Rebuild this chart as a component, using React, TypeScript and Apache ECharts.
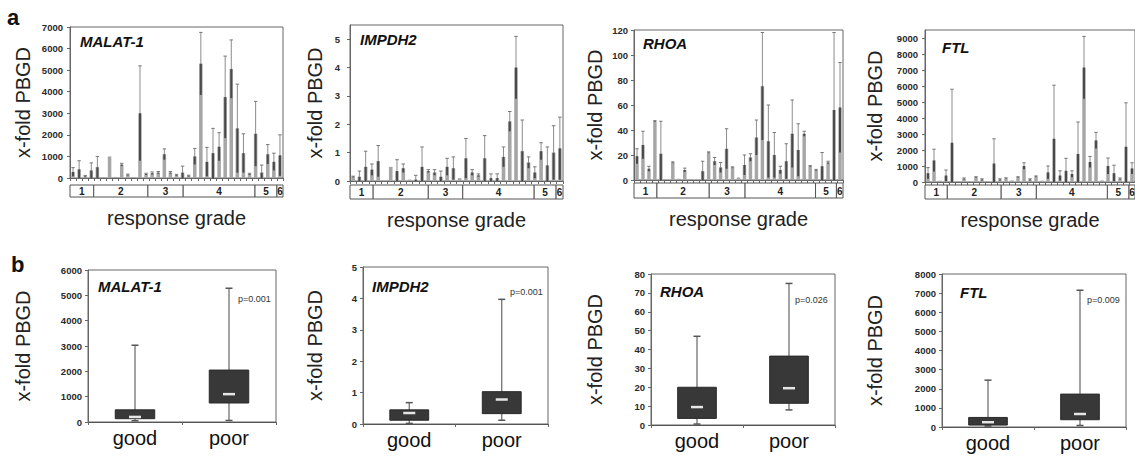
import React, { useEffect, useRef } from "react";
import * as echarts from "echarts";

const FONT = "'Liberation Sans', Arial, Helvetica, sans-serif";

const geneNames = ["MALAT-1", "IMPDH2", "RHOA", "FTL"];
const gradeLabels = ["1", "2", "3", "4", "5", "6"];
const outcomeCategories = ["good", "poor"];
const pValues = ["p=0.001", "p=0.001", "p=0.026", "p=0.009"];
const yAxisTitle = "x-fold PBGD";
const xAxisTitle = "response grade";

// ---- panel a: per-patient mean and SD ----
const malatMean = [280, 400, 80, 350, 500, 30, 1000, 50, 620, 150, 40, 3000, 180, 220, 250, 1100, 250, 130, 250, 100, 1000, 5300, 750, 1150, 1450, 3750, 5050, 2300, 1150, 180, 2050, 250, 1100, 750, 1050];
const malatSd = [200, 400, 40, 350, 500, 0, 0, 0, 60, 30, 0, 2200, 40, 60, 50, 250, 50, 40, 300, 30, 370, 1450, 670, 1150, 650, 1900, 1350, 2050, 900, 40, 1500, 350, 450, 400, 950];
const malatGradeEdges = [0, 3.9, 12.8, 18.6, 30.4, 34.0, 35];

const impdhMean = [0.15, 0.15, 0.5, 0.4, 0.7, 0, 0.5, 0.35, 0.45, 0.05, 0.05, 0.5, 0.35, 0.3, 0.15, 0.5, 0.45, 0.1, 0.8, 0.3, 0.2, 0.8, 0.1, 0.1, 0.85, 2.1, 4.0, 1.05, 0.65, 0.3, 1.05, 0.55, 1.0, 1.15];
const impdhSd = [0.02, 0.2, 0.55, 0.2, 0.55, 0, 0, 0.4, 0.15, 0, 0.15, 0.7, 0.05, 0.1, 0.2, 0.3, 0.4, 0, 0.7, 0.1, 0.05, 0.8, 0.15, 0.15, 0.35, 0.35, 1.1, 1.1, 0.2, 0.2, 0.3, 0.65, 0.95, 1.1];
const impdhGradeEdges = [0, 3.7, 12.5, 18.0, 29.4, 32.9, 34];

const rhoaMean = [19, 28, 9, 47, 21, 0.5, 14, 1, 8, 0.5, 0.3, 7, 22, 15, 10, 25, 10, 2, 12, 18, 34, 75, 31, 20, 8, 15, 37, 24, 37, 11, 8, 11, 14, 56, 58];
const rhoaSd = [6, 11, 2, 0.5, 26, 0, 0.5, 0, 1.5, 0, 0, 8, 0.5, 3, 4, 16, 0.5, 0, 8, 3, 14, 43, 29, 18, 3, 14, 27, 21, 2, 0.5, 0.5, 11, 1, 62, 36];
const rhoaGradeEdges = [0, 3.84, 12.6, 18.6, 30.4, 33.9, 35];

const ftlMean = [550, 1350, 80, 400, 2450, 30, 200, 30, 300, 150, 50, 1150, 150, 220, 100, 300, 1000, 150, 350, 80, 600, 2700, 400, 700, 500, 1750, 7150, 1250, 2600, 100, 1000, 550, 200, 2200, 850];
const ftlSd = [350, 700, 0, 350, 3350, 0, 50, 0, 30, 50, 0, 1550, 50, 40, 0, 30, 200, 50, 30, 0, 400, 3350, 300, 780, 200, 2000, 1950, 350, 500, 0, 500, 500, 50, 2750, 350];
const ftlGradeEdges = [0, 3.72, 12.7, 18.56, 30.4, 34.0, 35];

// ---- panel b: [min, Q1, median, Q3, max] for good / poor ----
const malatBox = [[50, 130, 200, 480, 3030], [60, 750, 1100, 2050, 5280]];
const impdhBox = [[0.02, 0.12, 0.35, 0.45, 0.68], [0.12, 0.33, 0.78, 1.03, 3.97]];
const rhoaBox = [[0.5, 3.5, 9.5, 20, 47], [8, 11.5, 19.5, 36.5, 75]];
const ftlBox = [[50, 100, 250, 500, 2450], [80, 380, 680, 1720, 7150]];

const topMeans = [malatMean, impdhMean, rhoaMean, ftlMean];
const topSds = [malatSd, impdhSd, rhoaSd, ftlSd];
const topEdges = [malatGradeEdges, impdhGradeEdges, rhoaGradeEdges, ftlGradeEdges];
const topMax = [7000, 5.5, 120, 9500];
const topInterval = [1000, 1, 20, 1000];
const boxData = [malatBox, impdhBox, rhoaBox, ftlBox];
const boxMax = [6000, 5, 80, 8000];
const boxInterval = [1000, 1, 10, 1000];

// layout (pixels)
const topLayout = [
  { left: 70, top: 27, width: 213, height: 151, gTop: 185, gH: 12, nameGap: 37, margin: 7, title: [80, 41] },
  { left: 350, top: 25, width: 213, height: 156, gTop: 185, gH: 14, nameGap: 25, margin: 10, title: [360, 39] },
  { left: 634, top: 30, width: 209, height: 150, gTop: 183, gH: 15, nameGap: 29, margin: 6, title: [643, 43.5] },
  { left: 925, top: 30, width: 211, height: 152, gTop: 185, gH: 14, nameGap: 40, margin: 7, title: [942, 47.5] },
];
const botLayout = [
  { left: 88, top: 270, width: 188, height: 152, nameGap: 55, title: [98, 286], p: [238, 299] },
  { left: 363, top: 267, width: 185, height: 157, nameGap: 38, title: [372, 286], p: [510, 292] },
  { left: 651, top: 274, width: 184, height: 151, nameGap: 46, title: [660, 291], p: [795, 300] },
  { left: 942, top: 274, width: 184, height: 153, nameGap: 57, title: [960, 292], p: [1087, 300] },
];

function buildOption() {
  const grid: any[] = [];
  const xAxis: any[] = [];
  const yAxis: any[] = [];
  const series: any[] = [];
  const graphic: any[] = [];

  const axisLineStyle = { color: "#666", width: 1 };
  const tickLabel = (margin: number, showMax: boolean) => ({
    fontSize: 9.5,
    fontWeight: "bold",
    color: "#2a2a2a",
    fontFamily: FONT,
    margin,
    showMaxLabel: showMax,
    formatter: (v: number) => String(v),
  });
  const yName = (gap: number) => ({
    name: yAxisTitle,
    nameLocation: "middle",
    nameGap: gap,
    nameTextStyle: { fontSize: 20, color: "#222", fontFamily: FONT },
  });

  const errRender = (params: any, api: any) => {
    const i = api.value(0);
    const m = api.value(1);
    const s = api.value(2);
    if (!s) return null;
    const pTop = api.coord([i, m + s]);
    const pMid = api.coord([i, m]);
    const pLow = api.coord([i, Math.max(0, m - s)]);
    const bw = api.size([1, 0])[0];
    const cap = bw * 0.28;
    return {
      type: "group",
      children: [
        { type: "line", shape: { x1: pTop[0], y1: pTop[1], x2: pMid[0], y2: pMid[1] }, style: { stroke: "#8c8c8c", lineWidth: 1 } },
        { type: "line", shape: { x1: pTop[0] - cap, y1: pTop[1], x2: pTop[0] + cap, y2: pTop[1] }, style: { stroke: "#777", lineWidth: 1 } },
        { type: "line", shape: { x1: pMid[0], y1: pMid[1], x2: pLow[0], y2: pLow[1] }, style: { stroke: "#4a4a4a", lineWidth: 2 } },
      ],
    };
  };

  const groupRender = (params: any, api: any) => {
    const s = api.value(0);
    const e = api.value(1);
    const p0 = api.coord([s, 1]);
    const p1 = api.coord([e, 0]);
    return {
      type: "group",
      children: [
        { type: "rect", shape: { x: p0[0], y: p0[1], width: p1[0] - p0[0], height: p1[1] - p0[1] }, style: { fill: "#fff", stroke: "#555", lineWidth: 1 } },
        {
          type: "text",
          style: {
            text: gradeLabels[params.dataIndex],
            x: (p0[0] + p1[0]) / 2,
            y: (p0[1] + p1[1]) / 2 + 0.5,
            align: "center",
            verticalAlign: "middle",
            fontSize: 10,
            fontWeight: "bold",
            fontFamily: FONT,
            fill: "#222",
          },
        },
      ],
    };
  };

  const boxRender = (params: any, api: any) => {
    const x = api.value(0);
    const mn = api.value(1), q1 = api.value(2), md = api.value(3), q3 = api.value(4), mx = api.value(5);
    const cw = api.size([1, 0])[0];
    const half = cw * 0.21;
    const cap = 3.5;
    const pMin = api.coord([x, mn]);
    const pMax = api.coord([x, mx]);
    const pQ1 = api.coord([x, q1]);
    const pQ3 = api.coord([x, q3]);
    const pMd = api.coord([x, md]);
    const cx = pMin[0];
    return {
      type: "group",
      children: [
        { type: "line", shape: { x1: cx, y1: pMax[1], x2: cx, y2: pMin[1] }, style: { stroke: "#666", lineWidth: 1.2 } },
        { type: "line", shape: { x1: cx - cap, y1: pMax[1], x2: cx + cap, y2: pMax[1] }, style: { stroke: "#555", lineWidth: 1.5 } },
        { type: "line", shape: { x1: cx - cap, y1: pMin[1], x2: cx + cap, y2: pMin[1] }, style: { stroke: "#555", lineWidth: 1.5 } },
        { type: "rect", shape: { x: cx - half, y: pQ3[1], width: half * 2, height: pQ1[1] - pQ3[1] }, style: { fill: "#383838", stroke: "#2a2a2a", lineWidth: 1 } },
        { type: "line", shape: { x1: cx - 6, y1: pMd[1], x2: cx + 6, y2: pMd[1] }, style: { stroke: "#e6e6e6", lineWidth: 2.5 } },
      ],
    };
  };

  // ---- top row ----
  for (let k = 0; k < 4; k++) {
    const L = topLayout[k];
    const mean = topMeans[k];
    const sd = topSds[k];
    const N = mean.length;
    const gi = grid.length;
    grid.push({ left: L.left, top: L.top, width: L.width, height: L.height, show: true, borderColor: "#666", borderWidth: 1 });
    xAxis.push({
      gridIndex: gi,
      type: "category",
      data: mean.map((_, i) => String(i + 1)),
      axisLine: { lineStyle: axisLineStyle },
      axisTick: { show: true, length: 3, interval: 0, lineStyle: axisLineStyle },
      axisLabel: { show: false },
    });
    yAxis.push({
      gridIndex: gi,
      type: "value",
      min: 0,
      max: topMax[k],
      interval: topInterval[k],
      axisLine: { show: true, lineStyle: axisLineStyle },
      axisTick: { show: true, length: 3, lineStyle: axisLineStyle },
      axisLabel: tickLabel(L.margin, topMax[k] % topInterval[k] === 0),
      splitLine: { show: false },
      ...yName(L.nameGap),
    });
    series.push({
      type: "bar",
      xAxisIndex: gi,
      yAxisIndex: gi,
      data: mean,
      barWidth: "58%",
      itemStyle: { color: "#a6a6a6" },
      silent: true,
    });
    series.push({
      type: "custom",
      xAxisIndex: gi,
      yAxisIndex: gi,
      data: mean.map((m, i) => [i, m, sd[i]]),
      encode: { x: 0, y: 1 },
      renderItem: errRender,
      z: 3,
      silent: true,
    });

    // grade boxes row
    const gg = grid.length;
    grid.push({ left: L.left, top: L.gTop, width: L.width, height: L.gH });
    xAxis.push({
      gridIndex: gg,
      type: "value",
      min: 0,
      max: N,
      axisLine: { show: false },
      axisTick: { show: false },
      axisLabel: { show: false },
      splitLine: { show: false },
      name: xAxisTitle,
      nameLocation: "middle",
      nameGap: 11,
      nameTextStyle: { fontSize: 20, color: "#222", fontFamily: FONT },
    });
    yAxis.push({ gridIndex: gg, type: "value", min: 0, max: 1, show: false });
    const edges = topEdges[k];
    series.push({
      type: "custom",
      xAxisIndex: gg,
      yAxisIndex: gg,
      data: gradeLabels.map((_, j) => [edges[j], edges[j + 1]]),
      encode: { x: [0, 1] },
      renderItem: groupRender,
      silent: true,
    });

    graphic.push({
      type: "text",
      style: {
        text: geneNames[k],
        x: L.title[0],
        y: L.title[1],
        verticalAlign: "middle",
        fontSize: 15,
        fontWeight: "bold",
        fontStyle: "italic",
        fontFamily: FONT,
        fill: "#111",
      },
    });
  }

  // ---- bottom row ----
  for (let k = 0; k < 4; k++) {
    const L = botLayout[k];
    const gi = grid.length;
    grid.push({ left: L.left, top: L.top, width: L.width, height: L.height, show: true, borderColor: "#666", borderWidth: 1 });
    xAxis.push({
      gridIndex: gi,
      type: "category",
      data: outcomeCategories,
      axisLine: { lineStyle: { color: "#555", width: 1 } },
      axisTick: { show: true, length: 3, lineStyle: axisLineStyle },
      axisLabel: { fontSize: 20, color: "#111", fontFamily: FONT, margin: 6 },
    });
    yAxis.push({
      gridIndex: gi,
      type: "value",
      min: 0,
      max: boxMax[k],
      interval: boxInterval[k],
      axisLine: { show: true, lineStyle: axisLineStyle },
      axisTick: { show: true, length: 3, lineStyle: axisLineStyle },
      axisLabel: tickLabel(6, true),
      splitLine: { show: false },
      ...yName(L.nameGap),
    });
    series.push({
      type: "custom",
      xAxisIndex: gi,
      yAxisIndex: gi,
      data: boxData[k].map((b, i) => [i, ...b]),
      encode: { x: 0, y: [1, 2, 3, 4, 5] },
      renderItem: boxRender,
      silent: true,
    });
    graphic.push({
      type: "text",
      style: {
        text: geneNames[k],
        x: L.title[0],
        y: L.title[1],
        verticalAlign: "middle",
        fontSize: 15,
        fontWeight: "bold",
        fontStyle: "italic",
        fontFamily: FONT,
        fill: "#111",
      },
    });
    graphic.push({
      type: "text",
      style: {
        text: pValues[k],
        x: L.p[0],
        y: L.p[1],
        verticalAlign: "middle",
        fontSize: 9,
        fontFamily: FONT,
        fill: "#333",
      },
    });
  }

  graphic.push({
    type: "text",
    style: { text: "a", x: 7, y: 17, verticalAlign: "middle", fontSize: 22, fontWeight: "bold", fontFamily: FONT, fill: "#111" },
  });
  graphic.push({
    type: "text",
    style: { text: "b", x: 11, y: 264, verticalAlign: "middle", fontSize: 22, fontWeight: "bold", fontFamily: FONT, fill: "#111" },
  });

  return {
    animation: false,
    backgroundColor: "#ffffff",
    textStyle: { fontFamily: FONT },
    grid,
    xAxis,
    yAxis,
    series,
    graphic,
  };
}

export default function App() {
  const ref = useRef<HTMLDivElement>(null);
  useEffect(() => {
    if (!ref.current) return;
    const chart = echarts.init(ref.current, undefined, { renderer: "svg" });
    chart.setOption(buildOption() as any);
    return () => chart.dispose();
  }, []);
  return (
    <div
      ref={ref}
      style={{ position: "absolute", left: 0, top: 0, width: 1135, height: 457 }}
    />
  );
}
